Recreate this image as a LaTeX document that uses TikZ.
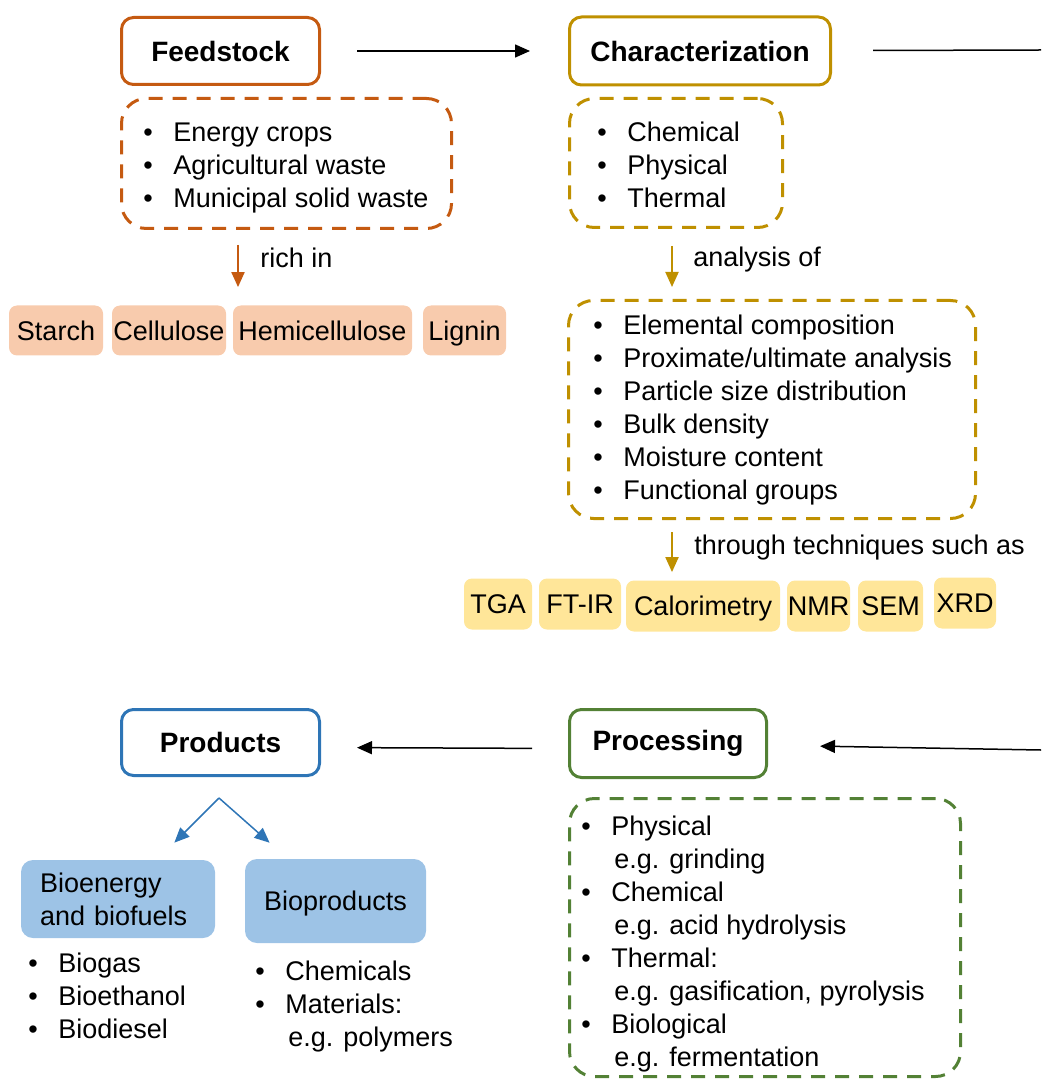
\documentclass[tikz,border=0pt]{standalone}
\usepackage{fontspec}
\setmainfont{Liberation Sans}
\usepackage{xcolor}
\usetikzlibrary{arrows.meta,positioning,calc}

\definecolor{feedC}{HTML}{C55A11}
\definecolor{charC}{HTML}{BF9000}
\definecolor{procC}{HTML}{538135}
\definecolor{prodC}{HTML}{2E75B6}
\definecolor{feedF}{HTML}{F8CBAD}
\definecolor{charF}{HTML}{FFE699}
\definecolor{prodF}{HTML}{9DC3E6}

\newcommand{\itm}[1]{\makebox[15pt][l]{\textbullet}#1}
\newcommand{\eg}[1]{\hspace*{16.5pt}#1}

\begin{document}
\begin{tikzpicture}[x=0.5pt, y=-0.5pt,
    every node/.style={font=\fontsize{13.5pt}{16.5pt}\selectfont},
    title/.style={draw, line width=1.5pt, rounded corners=6pt, inner sep=0pt,
        font=\fontsize{14pt}{16pt}\selectfont\bfseries},
    group/.style={draw, dash pattern=on 7pt off 5pt, line width=1.5pt,
        rounded corners=12.5pt, inner sep=0pt},
    items/.style={anchor=west, align=left, inner sep=0pt},
    chip/.style={rounded corners=4pt, inner sep=0pt, text height=9.7pt, text depth=0pt},
    flow/.style={-{Triangle[length=7.5pt,width=6.5pt]}, line width=0.75pt},
    sub/.style={-{Triangle[length=7.5pt,width=6.5pt]}, line width=1pt},
    lbl/.style={anchor=west, inner sep=0pt}]
            \useasboundingbox (0,0) rectangle (1041,1079);

            \node[title, draw=feedC, minimum width=99pt, minimum height=33.5pt] (feed) at (220.5,51) {Feedstock};
            \node[title, draw=charC, minimum width=130.5pt, minimum height=34pt] (char) at (700,51) {Characterization};
            \node[title, draw=prodC, minimum width=99pt, minimum height=33pt] (prod) at (220.5,742.5) {Products};
            \node[title, draw=procC, minimum width=98.5pt, minimum height=34pt] (proc) at (668,743.5) {Processing};

            \node[group, draw=feedC, minimum width=165pt, minimum height=65pt] (feedset) at (286.5,163.5) {};
            \node[group, draw=charC, minimum width=106.5pt, minimum height=64.5pt] (charset) at (676,163) {};
            \node[group, draw=charC, minimum width=203.5pt, minimum height=109pt] (propset) at (772,409.5) {};
            \node[group, draw=procC, minimum width=195.5pt, minimum height=139pt] (procset) at (765,937.5) {};

            \node[items] (feedlist) at (143,168) {\itm{Energy crops}\\\itm{Agricultural waste}\\\itm{Municipal solid waste}};
            \node[items] (charlist) at (597,165) {\itm{Chemical}\\\itm{Physical}\\\itm{Thermal}};
            \node[items] (proplist) at (593,410.5) {\itm{Elemental composition}\\\itm{Proximate/ultimate analysis}\\
                \itm{Particle size distribution}\\\itm{Bulk density}\\\itm{Moisture content}\\\itm{Functional groups}};
            \node[items] (proclist) at (581,944.5) {\itm{Physical}\\\eg{e.g. grinding}\\\itm{Chemical}\\\eg{e.g. acid hydrolysis}\\
                \itm{Thermal:}\\\eg{e.g. gasification, pyrolysis}\\\itm{Biological}\\\eg{e.g. fermentation}};

            \node[lbl] (richlbl) at (260,258) {rich in};
            \node[lbl] (anlbl) at (693,260) {analysis of};
            \node[lbl] (techlbl) at (694,548) {through techniques such as};

            \foreach \cx/\w/\name in {56/94/Starch, 169/114/Cellulose, 322.5/179/Hemicellulose, 464.5/83/Lignin}
                \node[chip, fill=feedF, minimum width=\w*0.5pt, minimum height=25pt] (\name) at (\cx,330.5) {\name};
            \foreach \cx/\cy/\w/\name in {498/604/68/TGA, 580/604/82/FT-IR, 703/606/154/Calorimetry,
                    818.5/606/63/NMR, 890.5/606/65/SEM, 965/603/62/XRD}
                \node[chip, fill=charF, minimum width=\w*0.5pt, minimum height=25.5pt] (\name) at (\cx,\cy) {\name};

            \node[chip, fill=prodF, rounded corners=6pt, minimum width=97pt, minimum height=39pt,
                text height=, text depth=, text width=78pt, align=left] (bioen) at (118,899) {Bioenergy\\and biofuels};
            \node[chip, fill=prodF, rounded corners=6pt, minimum width=90.5pt, minimum height=42pt] (bioprod) at (335.5,901) {Bioproducts};
            \node[items] (bioenlist) at (28,996) {\itm{Biogas}\\\itm{Bioethanol}\\\itm{Biodiesel}};
            \node[items] (bioprodlist) at (255,1007) {\itm{Chemicals}\\\itm{Materials:}\\\eg{e.g. polymers}};

            \coordinate (edgeA) at (1041,50);
            \coordinate (edgeB) at (1041,750);
            \coordinate (richx) at (238,0);
            \coordinate (techx) at (672,0);
            \coordinate (fork) at (219,798);

            \draw[flow, shorten <=18pt, shorten >=19pt] (feed) -- (char);
            \draw[line width=0.75pt, shorten <=20.5pt] (char) -- (edgeA);
            \draw[flow, shorten >=26pt] (edgeB) -- (proc);
            \draw[flow, shorten <=18pt, shorten >=18pt] ([yshift=-2.5pt]proc.west) -- ([yshift=-2.5pt]prod.east);

            \draw[sub, feedC, shorten <=7.5pt, shorten >=9pt] (feedset.south -| richx) -- (Hemicellulose.north -| richx);
            \draw[sub, charC, shorten <=8.5pt, shorten >=6pt] (charset.south -| techx) -- (propset.north -| techx);
            \draw[sub, charC, shorten <=6pt, shorten >=4pt] (propset.south -| techx) -- (Calorimetry.north -| techx);

            \draw[flow, prodC, shorten >=12pt] (fork) -- (bioen);
            \draw[flow, prodC, shorten >=12pt] (fork) -- (bioprod);
        \end{tikzpicture}
\end{document}
